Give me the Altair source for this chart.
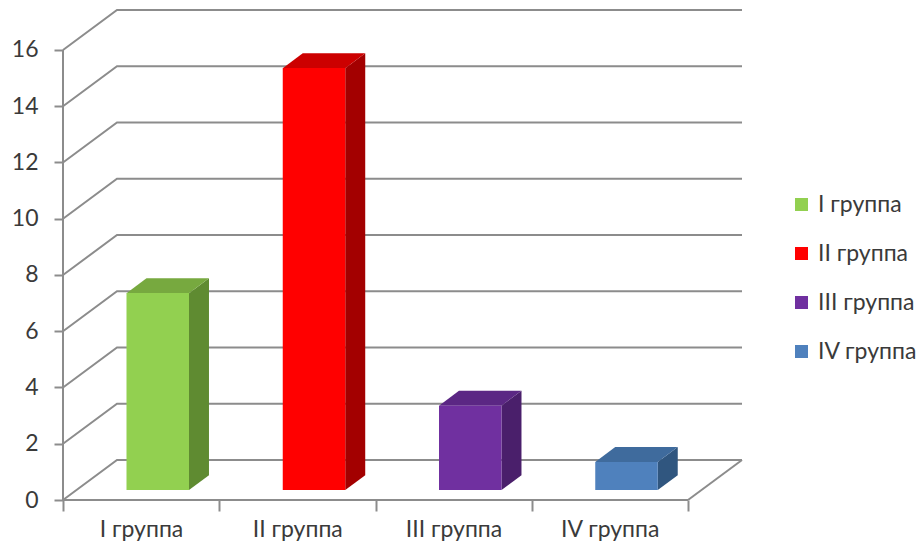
import altair as alt
import pandas as pd

# ---- data ----
categories = ["I группа", "II группа", "III группа", "IV группа"]
values = [7, 15, 3, 1]
front_colors = ["#92D050", "#FF0000", "#7030A0", "#4F81BD"]
top_colors = ["#77A93F", "#CC0000", "#5B2784", "#3F6B9D"]
side_colors = ["#5F8B31", "#A30000", "#4A1F6B", "#30567F"]
y_ticks = [0, 2, 4, 6, 8, 10, 12, 14, 16]

# ---- 3-D projection parameters (style) ----
N = len(categories)
Y_MAX = 16
DX = 0.3456   # depth offset in category units
DY = 1.4222   # depth offset in value units
FRONT = 0.25  # depth fraction of bar front face
BACK = 0.62   # depth fraction of bar back face
BAR_L, BAR_R = 0.32, 0.72
GRID = "#8C8C8C"
FONT = "Lato"
TXT = "#3A3A3A"
FS = 23

# wall / floor lines
rows = []
for v in y_ticks:
    pts = [(0, v), (DX, v + DY), (N + DX, v + DY)]
    for k, (x, y) in enumerate(pts):
        rows.append({"seg": f"g{v}", "ord": k, "x": x, "y": y})
for name, pts in {
    "front": [(0, 0), (N, 0)],
    "right": [(N, 0), (N + DX, DY)],
    "left": [(0, 0), (0, Y_MAX)],
}.items():
    for k, (x, y) in enumerate(pts):
        rows.append({"seg": name, "ord": k, "x": x, "y": y})
lines_df = pd.DataFrame(rows)

front_rows, top_rows, side_rows = [], [], []
for i, (c, v) in enumerate(zip(categories, values)):
    front_rows.append({
        "cat": c,
        "x": i + BAR_L + FRONT * DX, "x2": i + BAR_R + FRONT * DX,
        "y": FRONT * DY, "y2": v + FRONT * DY,
    })
    for d in (FRONT, BACK):
        top_rows.append({
            "cat": c, "col": top_colors[i],
            "y": v + d * DY,
            "x": i + BAR_L + d * DX, "x2": i + BAR_R + d * DX,
        })
        side_rows.append({
            "cat": c, "col": side_colors[i],
            "x": i + BAR_R + d * DX,
            "y": d * DY, "y2": v + d * DY,
        })
front_df = pd.DataFrame(front_rows)
top_df = pd.DataFrame(top_rows)
side_df = pd.DataFrame(side_rows)

xs = alt.Scale(domain=[0, N + DX], nice=False, zero=False)
ys = alt.Scale(domain=[0, Y_MAX + DY], nice=False, zero=False)

label_expr = "[" + ",".join(f"'{c}'" for c in categories) + ",''][datum.value]"

x_axis = alt.Axis(
    values=list(range(N + 1)), domain=False, grid=False, title=None,
    tickSize=11, tickColor=GRID, tickWidth=2,
    labelExpr=label_expr, labelOffset=78, labelPadding=7,
    labelFontSize=FS, labelFont=FONT, labelColor=TXT,
    labelOverlap=False, labelBound=False, labelFlush=False,
)
y_axis = alt.Axis(
    values=y_ticks, domain=False, grid=False, title=None,
    tickSize=9, tickColor=GRID, tickWidth=2,
    labelPadding=16, labelFontSize=FS, labelFont=FONT, labelColor=TXT,
    labelOverlap=False,
)

X = lambda f: alt.X(f, scale=xs, axis=x_axis, title=None)
Y = lambda f: alt.Y(f, scale=ys, axis=y_axis, title=None)

lines = alt.Chart(lines_df).mark_line(color=GRID, strokeWidth=2).encode(
    x=X("x:Q"), y=Y("y:Q"), detail="seg:N", order="ord:Q",
)

sides = alt.Chart(side_df).mark_area(orient="vertical").encode(
    x=X("x:Q"), y=Y("y:Q"), y2="y2:Q",
    fill=alt.Fill("col:N", scale=None),
    detail="cat:N",
)

tops = alt.Chart(top_df).mark_area(orient="horizontal").encode(
    y=Y("y:Q"), x=X("x:Q"), x2="x2:Q",
    fill=alt.Fill("col:N", scale=None),
    detail="cat:N",
)

fronts = alt.Chart(front_df).mark_rect().encode(
    x=X("x:Q"), x2="x2:Q", y=Y("y:Q"), y2="y2:Q",
    color=alt.Color(
        "cat:N",
        scale=alt.Scale(domain=categories, range=front_colors),
        legend=alt.Legend(
            title=None, orient="none", legendX=727, legendY=183,
            symbolType="square", symbolSize=169, symbolStrokeWidth=0,
            labelFontSize=FS, labelFont=FONT, labelColor=TXT,
            rowPadding=25, labelOffset=5,
        ),
    ),
)

chart = alt.layer(lines, sides, tops, fronts).properties(
    width=679, height=490,
    background="white",
    autosize=alt.AutoSizeParams(type="none"),
    padding={"left": 55, "top": 2, "right": 174, "bottom": 44},
).configure_view(stroke=None)

chart.save("out.html", embed_options={"renderer": "svg", "actions": False})
